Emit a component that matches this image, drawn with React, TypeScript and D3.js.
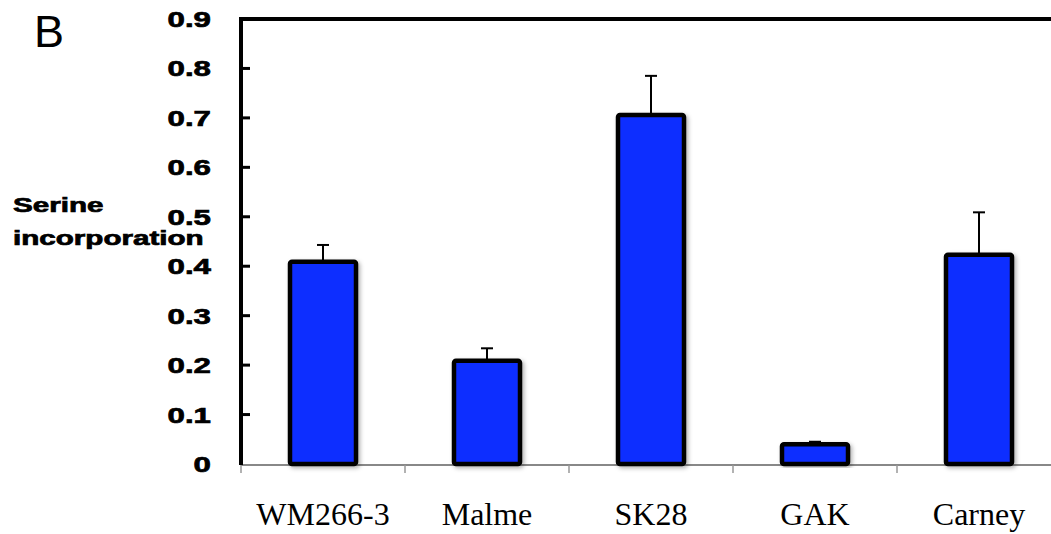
import React from 'react';
import * as d3 from 'd3';

const categories = ['WM266-3', 'Malme', 'SK28', 'GAK', 'Carney'];
const values = [0.409, 0.209, 0.706, 0.04, 0.423];
const errors = [0.034, 0.025, 0.079, 0.005, 0.086];
const yTicks = [0, 0.1, 0.2, 0.3, 0.4, 0.5, 0.6, 0.7, 0.8, 0.9];

const W = 1051;
const H = 534;
const left = 241;
const top = 19;
const bottom = 464;
const bandW = 164;
// the original's bold labels are wide and heavy
const stretch = 1.42;

const App: React.FC = () => {
    const x = d3
        .scaleBand()
        .domain(categories)
        .range([left, left + bandW * categories.length]);
    const y = d3.scaleLinear().domain([0, 0.9]).range([bottom, top]);
    const barW = 66;

    return (
        <svg
            width={W}
            height={H}
            style={{ position: 'absolute', left: 0, top: 0, background: '#fff' }}
        >
            <defs>
                <filter id="shadow" x="-20%" y="-20%" width="140%" height="140%">
                    <feDropShadow dx="2" dy="2" stdDeviation="2" floodColor="#000" floodOpacity="0.3" />
                </filter>
            </defs>

            <text x={34} y={47} fontFamily="Liberation Sans, Arial, sans-serif" fontSize={45}>
                B
            </text>

            {/* y axis title */}
            <g
                fontFamily="Liberation Sans, Arial, sans-serif"
                fontWeight="bold"
                fontSize={20}
                stroke="#000"
                strokeWidth={0.7}
                transform={`translate(13,0) scale(1.48,1)`}
            >
                <text x={0} y={212}>Serine</text>
                <text x={0} y={245}>incorporation</text>
            </g>

            {/* x axis gray line + ticks */}
            <line x1={left} x2={W} y1={bottom + 1} y2={bottom + 1} stroke="#888" strokeWidth={2} />
            {d3.range(categories.length + 1).map((i) => (
                <line
                    key={i}
                    x1={left + i * bandW}
                    x2={left + i * bandW}
                    y1={bottom + 1}
                    y2={bottom + 9}
                    stroke="#999"
                    strokeWidth={1.5}
                />
            ))}

            {/* bars */}
            {categories.map((c, i) => {
                const cx = x(c)! + x.bandwidth() / 2;
                const yTop = y(values[i]);
                const yErr = y(values[i] + errors[i]);
                return (
                    <g key={c}>
                        <line x1={cx} x2={cx} y1={yTop} y2={yErr} stroke="#000" strokeWidth={2} />
                        <line x1={cx - 6} x2={cx + 6} y1={yErr} y2={yErr} stroke="#000" strokeWidth={2} />
                        <rect
                            x={cx - barW / 2}
                            y={yTop}
                            width={barW}
                            height={bottom - yTop}
                            rx={2}
                            fill="#0d2dff"
                            stroke="#000"
                            strokeWidth={4.5}
                            filter="url(#shadow)"
                        />
                    </g>
                );
            })}

            {/* frame: left axis and top line */}
            <line x1={left} x2={left} y1={top - 2} y2={bottom + 1} stroke="#000" strokeWidth={4} />
            <line x1={left - 2} x2={W} y1={top} y2={top} stroke="#000" strokeWidth={4} />

            {/* y ticks + labels */}
            {yTicks.map((t) => (
                <g key={t}>
                    {t > 0 && t < 0.9 && (
                        <line x1={left} x2={left + 9} y1={y(t)} y2={y(t)} stroke="#000" strokeWidth={3} />
                    )}
                    <text
                        transform={`translate(211,${y(t) + 8}) scale(${stretch},1)`}
                        textAnchor="end"
                        fontFamily="Liberation Sans, Arial, sans-serif"
                        fontWeight="bold"
                        fontSize={22}
                        stroke="#000"
                        strokeWidth={0.7}
                    >
                        {t === 0 ? '0' : d3.format('.1f')(t)}
                    </text>
                </g>
            ))}

            {/* x labels */}
            {categories.map((c) => (
                <text
                    key={c}
                    x={x(c)! + x.bandwidth() / 2}
                    y={525}
                    textAnchor="middle"
                    fontFamily="Liberation Serif, Times New Roman, serif"
                    fontSize={32}
                >
                    {c}
                </text>
            ))}
        </svg>
    );
};

export default App;
